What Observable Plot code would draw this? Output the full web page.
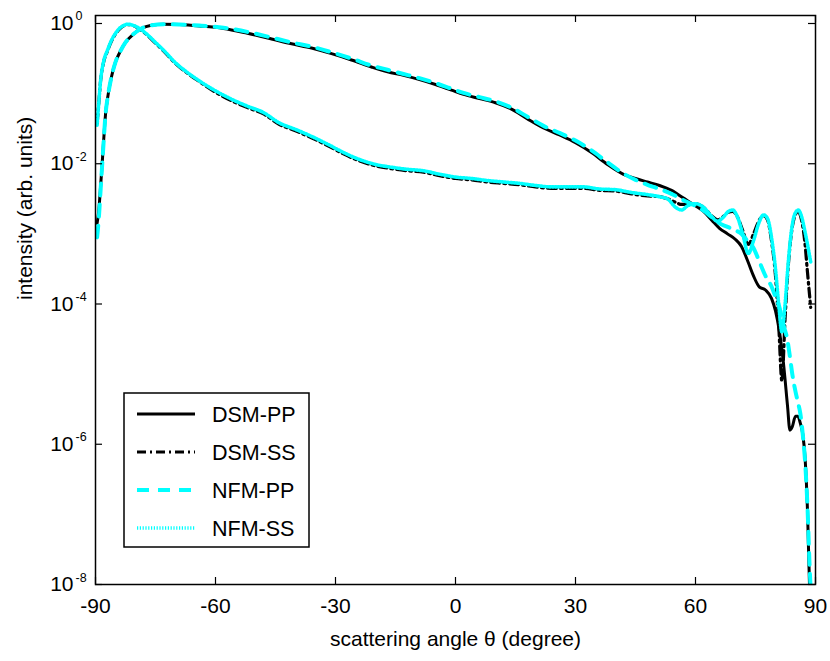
<!DOCTYPE html>
<html><head><meta charset="utf-8">
<script src="https://cdn.jsdelivr.net/npm/d3@7"></script>
<script src="https://cdn.jsdelivr.net/npm/@observablehq/plot@0.6"></script>
<style>
body{margin:0;background:#fff}
svg{font-family:"Liberation Sans",Arial,Helvetica,sans-serif}
</style>
</head><body><div id="chart"></div>
<script>
// scattering angle (degree) grid for the PP curves
const ppAngles = [-89.6,-89.2,-88.7,-88.2,-87.5,-86.8,-86,-85,-84,-82.5,-80.5,-78.5,-76,-73,-69,-64,-58,-52,-46,-41,-36,-31,-26,-21,-17,-13,-9,-5,-1,2,6,10,14,18,22,26,30,34,38,42,45,48,51,54,57,60,62,64,66,68,70,71.5,73,74.5,76,77.5,79,80,81,82,83,83.6,84.2,85,85.6,86.2,86.8,87.4,88,88.5,89];
// log10 intensity
const dsmPP = [-2.85,-2.68,-2.3,-1.88,-1.3,-1.0,-0.76,-0.55,-0.42,-0.27,-0.15,-0.07,-0.025,-0.01,-0.015,-0.035,-0.07,-0.14,-0.22,-0.29,-0.35,-0.43,-0.52,-0.62,-0.69,-0.74,-0.8,-0.87,-0.95,-1.01,-1.07,-1.13,-1.22,-1.36,-1.49,-1.59,-1.7,-1.84,-2.01,-2.15,-2.21,-2.26,-2.31,-2.38,-2.49,-2.6,-2.68,-2.8,-2.92,-3.0,-3.08,-3.18,-3.38,-3.6,-3.76,-3.8,-3.92,-4.1,-4.4,-4.85,-5.45,-5.8,-5.75,-5.6,-5.6,-5.7,-5.85,-6.2,-6.95,-8.0,-8.6];
const nfmPP = [-3.05,-2.8,-2.35,-1.9,-1.3,-1.0,-0.76,-0.55,-0.42,-0.27,-0.15,-0.07,-0.025,-0.01,-0.015,-0.03,-0.06,-0.12,-0.2,-0.27,-0.33,-0.41,-0.5,-0.6,-0.66,-0.72,-0.78,-0.85,-0.93,-0.99,-1.05,-1.11,-1.2,-1.33,-1.46,-1.56,-1.67,-1.81,-1.98,-2.14,-2.23,-2.3,-2.36,-2.43,-2.52,-2.6,-2.67,-2.76,-2.85,-2.9,-2.95,-3.0,-3.1,-3.2,-3.4,-3.6,-3.75,-3.9,-4.05,-4.3,-4.52,-4.75,-5.0,-5.25,-5.4,-5.56,-5.85,-6.25,-6.9,-7.7,-8.3];

// angle grid for the SS curves
const ssAngles = [-89.6,-89.2,-88.7,-88,-87,-86,-85,-84,-83,-82,-81,-80,-78.5,-77,-75,-73,-70,-67,-64,-60,-56,-52,-48,-44,-40,-36,-32,-28,-24,-20,-16,-12,-8,-4,0,4,8,12,16,20,24,28,32,36,40,44,48,51,53,55,56.5,58,60,62,64,65.5,67,68.2,69.3,70.5,71.8,73.2,74.5,75.8,77,78,79,80,80.8,81.6,82.4,83.2,84,84.8,85.7,86.5,87.3,88,88.8];
const dsmSS = [-1.42,-1.15,-0.8,-0.56,-0.39,-0.25,-0.15,-0.08,-0.035,-0.015,-0.02,-0.045,-0.1,-0.17,-0.28,-0.39,-0.57,-0.71,-0.83,-0.98,-1.1,-1.2,-1.29,-1.44,-1.53,-1.63,-1.74,-1.86,-1.96,-2.03,-2.07,-2.1,-2.12,-2.17,-2.21,-2.23,-2.26,-2.28,-2.3,-2.33,-2.35,-2.35,-2.35,-2.38,-2.39,-2.43,-2.46,-2.47,-2.5,-2.55,-2.58,-2.58,-2.57,-2.62,-2.74,-2.8,-2.75,-2.69,-2.68,-2.76,-2.95,-3.15,-3.0,-2.82,-2.74,-2.8,-3.1,-3.6,-4.3,-5.1,-4.2,-3.45,-2.98,-2.75,-2.68,-2.8,-3.1,-3.55,-4.05];
const nfmSS = [-1.45,-1.15,-0.8,-0.55,-0.38,-0.24,-0.14,-0.07,-0.03,-0.01,-0.02,-0.04,-0.09,-0.16,-0.27,-0.38,-0.56,-0.7,-0.82,-0.96,-1.08,-1.18,-1.27,-1.42,-1.51,-1.61,-1.72,-1.84,-1.94,-2.01,-2.05,-2.08,-2.1,-2.15,-2.19,-2.21,-2.24,-2.26,-2.28,-2.31,-2.33,-2.33,-2.33,-2.36,-2.37,-2.41,-2.44,-2.47,-2.5,-2.62,-2.66,-2.6,-2.57,-2.62,-2.75,-2.82,-2.76,-2.68,-2.66,-2.76,-3.0,-3.28,-3.1,-2.85,-2.73,-2.78,-3.05,-3.5,-4.0,-4.4,-4.0,-3.4,-2.95,-2.72,-2.66,-2.75,-2.95,-3.15,-3.4];

const seriesNames = ["DSM-PP","DSM-SS","NFM-PP","NFM-SS"];
const xTicks = [-90,-60,-30,0,30,60,90];
const yTickExps = [0,-2,-4,-6,-8];
const xTitle = "scattering angle \u03b8 (degree)";
const yTitle = "intensity (arb. units)";

const styles = {
  "DSM-PP": {stroke:"#000000", strokeWidth:3, dash:null},
  "DSM-SS": {stroke:"#000000", strokeWidth:3.2, dash:"9,4,2,4"},
  "NFM-PP": {stroke:"#00ffff", strokeWidth:4, dash:"12,9"},
  "NFM-SS": {stroke:"#00ffff", strokeWidth:3.6, dash:"1.2,1.6"}
};

const rows = [];
ppAngles.forEach((a,i)=>{ rows.push({series:"DSM-PP", angle:a, e:dsmPP[i]}); });
ssAngles.forEach((a,i)=>{ rows.push({series:"DSM-SS", angle:a, e:dsmSS[i]}); });
ppAngles.forEach((a,i)=>{ rows.push({series:"NFM-PP", angle:a, e:nfmPP[i]}); });
ssAngles.forEach((a,i)=>{ rows.push({series:"NFM-SS", angle:a, e:nfmSS[i]}); });

const W=830, H=661, mL=95, mR=15, mT=15, mB=77;
const frameW = W-mL-mR, frameH = H-mT-mB, tk = 7;
const font = "Liberation Sans, Arial, Helvetica, sans-serif";
const fs = 21;

const lineMarks = seriesNames.map(n => Plot.line(rows.filter(r=>r.series===n), {
  x:"angle", y:"e", stroke: styles[n].stroke, strokeWidth: styles[n].strokeWidth,
  strokeDasharray: styles[n].dash, curve:"monotone-x", clip:true
}));

const chart = Plot.plot({
  width: W, height: H, marginLeft: mL, marginRight: mR, marginTop: mT, marginBottom: mB,
  style: {fontFamily: font, background:"#ffffff", color:"#000000", overflow:"visible"},
  x: {domain:[-90,90], axis:null},
  y: {domain:[-8,0.114], axis:null},
  marks: [
    ...lineMarks,
    Plot.frame({stroke:"#000", strokeWidth:1.5}),
    Plot.ruleX(xTicks, {x:d=>d, insetTop: frameH-tk, stroke:"#000", strokeWidth:1.2}),
    Plot.ruleX(xTicks, {x:d=>d, insetBottom: frameH-tk, stroke:"#000", strokeWidth:1.2}),
    Plot.ruleY(yTickExps, {y:d=>d, insetRight: frameW-tk, stroke:"#000", strokeWidth:1.2}),
    Plot.ruleY(yTickExps, {y:d=>d, insetLeft: frameW-tk, stroke:"#000", strokeWidth:1.2}),
    Plot.text(xTicks, {x:d=>d, frameAnchor:"bottom", text:d=>String(d), dy:28, fontSize:fs, fill:"#000"}),
    Plot.text(yTickExps, {y:d=>d, frameAnchor:"left", text:()=>"10", textAnchor:"end", dx:-22, fontSize:fs, fill:"#000"}),
    Plot.text(yTickExps, {y:d=>d, frameAnchor:"left", text:d=>String(d), textAnchor:"start", dx:-20, dy:-7, fontSize:12.5, fill:"#000"}),
    Plot.text([xTitle], {frameAnchor:"bottom", text:d=>d, dy:61, fontSize:fs, fill:"#000"}),
    Plot.text([yTitle], {frameAnchor:"left", text:d=>d, dx:-70, rotate:-90, fontSize:fs, fill:"#000"})
  ]
});
document.getElementById("chart").appendChild(chart);

// legend inside the plot area, lower left
const svg = d3.select(chart);
const lg = svg.append("g").attr("font-family", font).attr("font-size", 21.5).attr("text-anchor", "start");
const lx = mL + 29, ly = 393, lw = 185, lh = 154;
lg.append("rect").attr("x", lx).attr("y", ly).attr("width", lw).attr("height", lh)
  .attr("fill", "#fff").attr("stroke", "#000").attr("stroke-width", 1.5);
seriesNames.forEach((n, i) => {
  const yy = ly + 21 + i * 38;
  const s = styles[n];
  lg.append("line").attr("x1", lx + 13).attr("x2", lx + 71).attr("y1", yy).attr("y2", yy)
    .attr("stroke", s.stroke).attr("stroke-width", s.strokeWidth)
    .attr("stroke-dasharray", s.dash);
  lg.append("text").attr("x", lx + 88).attr("y", yy).attr("dy", "0.35em")
    .attr("text-anchor", "start").attr("fill", "#000").text(n);
});
</script>
</body></html>
